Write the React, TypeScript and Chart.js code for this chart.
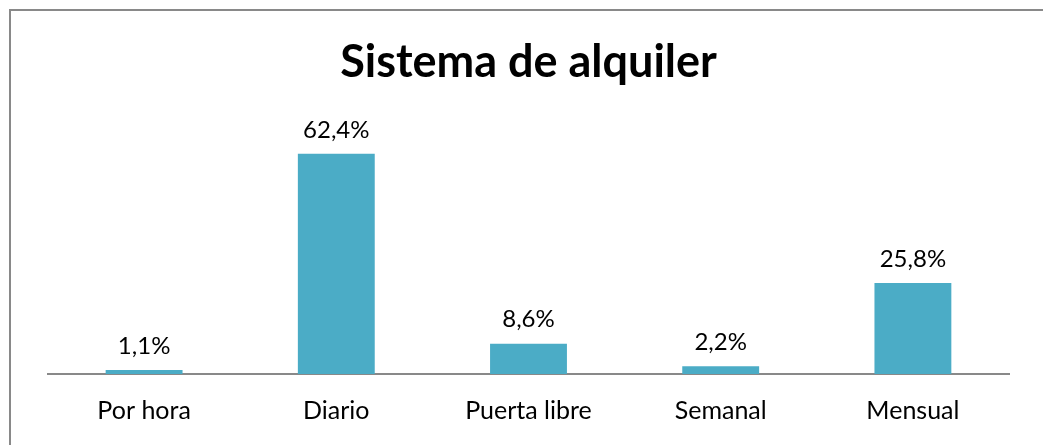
import React, { useEffect, useRef } from "react";
import { Chart, registerables } from "chart.js";

Chart.register(...registerables);

const categories = ["Por hora", "Diario", "Puerta libre", "Semanal", "Mensual"];
const values = [1.1, 62.4, 8.6, 2.2, 25.8];
const chartTitle = "Sistema de alquiler";
const FONT = "Lato, 'Open Sans', sans-serif";

const fmt = (v: number) => v.toFixed(1).replace(".", ",") + "%";

const labelPlugin = {
  id: "barLabels",
  afterDatasetsDraw(chart: any) {
    const ctx = chart.ctx;
    const meta = chart.getDatasetMeta(0);
    ctx.save();
    ctx.font = `400 24px ${FONT}`;
    ctx.fillStyle = "#000000";
    ctx.textAlign = "center";
    ctx.textBaseline = "bottom";
    meta.data.forEach((bar: any, i: number) => {
      ctx.fillText(fmt(values[i]), bar.x, bar.y - 12);
    });
    ctx.restore();
  },
};

export default function App() {
  const ref = useRef<HTMLCanvasElement | null>(null);
  useEffect(() => {
    if (!ref.current) return;
    const chart = new Chart(ref.current, {
      type: "bar",
      data: {
        labels: categories,
        datasets: [
          {
            data: values,
            backgroundColor: "#4BACC6",
            borderWidth: 0,
            categoryPercentage: 1,
            barPercentage: 0.4,
          },
        ],
      },
      options: {
        animation: false,
        responsive: false,
        maintainAspectRatio: false,
        layout: { padding: { left: 48, right: 34, top: 0, bottom: 0 } },
        plugins: {
          legend: { display: false },
          tooltip: { enabled: false },
          title: {
            display: true,
            text: chartTitle,
            color: "#000000",
            font: { family: FONT, size: 45, weight: "bold", lineHeight: 1.2 },
            padding: { top: 35, bottom: 38 },
          },
        },
        scales: {
          x: {
            grid: { display: false, drawTicks: false },
            border: { display: true, color: "#898989", width: 2 },
            ticks: {
              color: "#000000",
              padding: 22,
              font: { family: FONT, size: 25 },
              maxRotation: 0,
              autoSkip: false,
            },
            afterFit: (scale: any) => {
              scale.height = 71;
            },
          },
          y: {
            display: false,
            min: 0,
            max: 70,
          },
        },
      },
      plugins: [labelPlugin],
    });
    return () => chart.destroy();
  }, []);

  return (
    <div
      style={{
        position: "absolute",
        left: 0,
        top: 0,
        width: 1043,
        height: 445,
        overflow: "hidden",
        background: "#ffffff",
      }}
    >
      <div
        style={{
          position: "absolute",
          left: 9,
          top: 9,
          width: 1100,
          height: 500,
          border: "2px solid #898989",
          boxSizing: "border-box",
        }}
      />
      <canvas
        ref={ref}
        width={1043}
        height={445}
        style={{ position: "absolute", left: 0, top: 0, width: 1043, height: 445 }}
      />
    </div>
  );
}
